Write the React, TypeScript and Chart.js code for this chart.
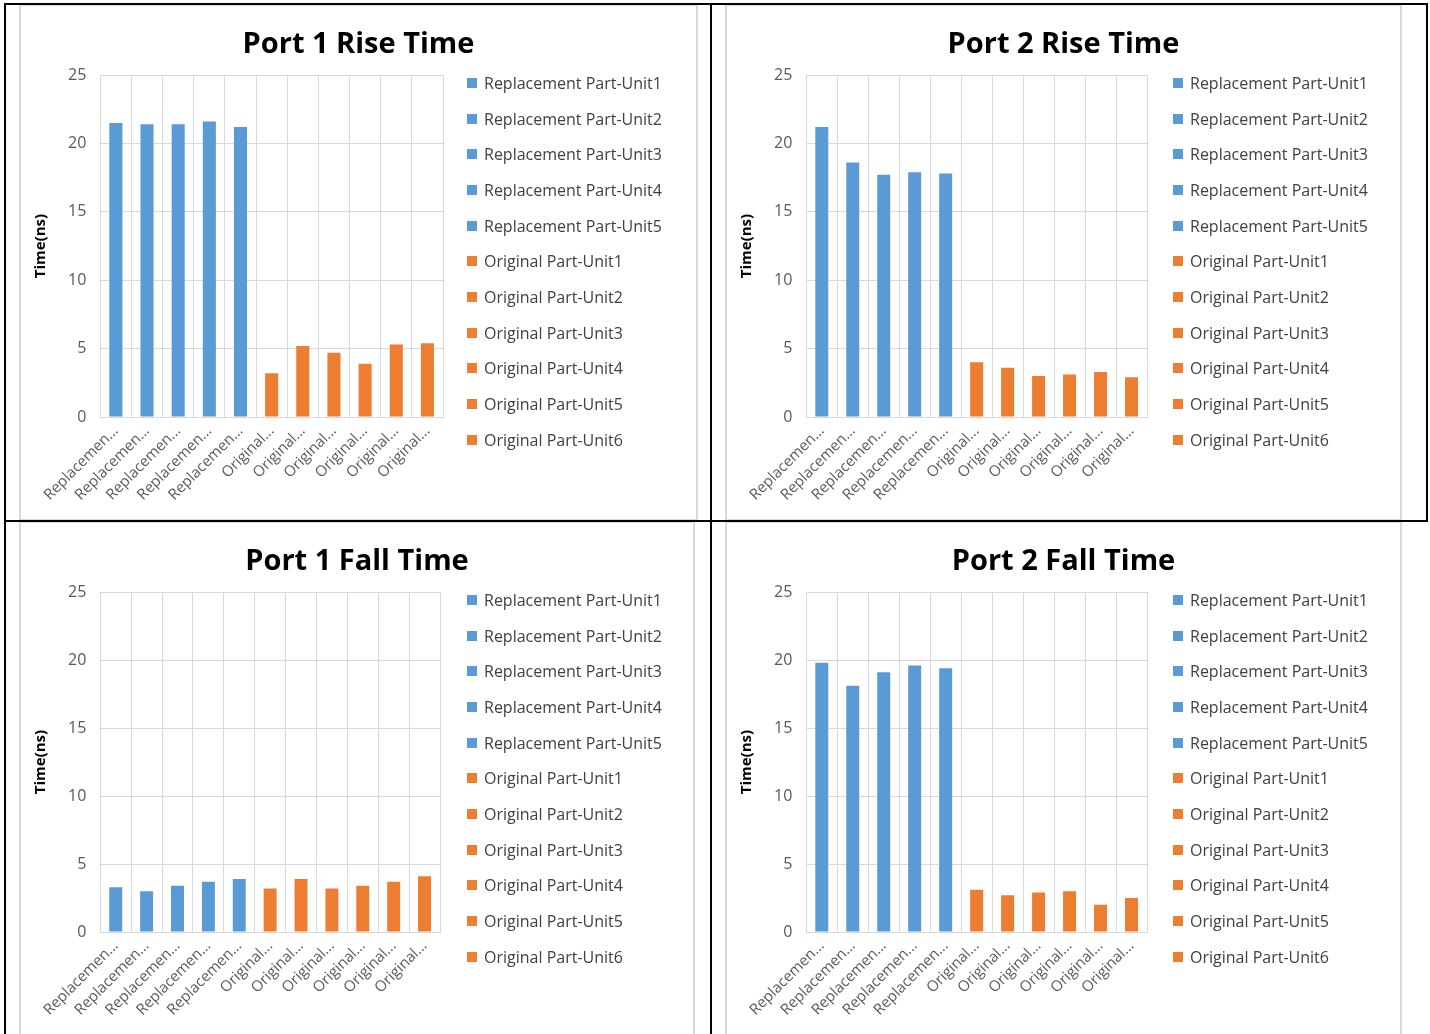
import Chart from 'chart.js/auto';
import { useEffect, useRef } from 'react';

const categories = [
	'Replacement Part-Unit1',
	'Replacement Part-Unit2',
	'Replacement Part-Unit3',
	'Replacement Part-Unit4',
	'Replacement Part-Unit5',
	'Original Part-Unit1',
	'Original Part-Unit2',
	'Original Part-Unit3',
	'Original Part-Unit4',
	'Original Part-Unit5',
	'Original Part-Unit6',
];
const shortLabels = [
	'Replacemen...', 'Replacemen...', 'Replacemen...', 'Replacemen...', 'Replacemen...',
	'Original...', 'Original...', 'Original...', 'Original...', 'Original...', 'Original...',
];

const port1Rise = [21.5, 21.4, 21.4, 21.6, 21.2, 3.2, 5.2, 4.7, 3.9, 5.3, 5.4];
const port2Rise = [21.2, 18.6, 17.7, 17.9, 17.8, 4.0, 3.6, 3.0, 3.1, 3.3, 2.9];
const port1Fall = [3.3, 3.0, 3.4, 3.7, 3.9, 3.2, 3.9, 3.2, 3.4, 3.7, 4.1];
const port2Fall = [19.8, 18.1, 19.1, 19.6, 19.4, 3.1, 2.7, 2.9, 3.0, 2.0, 2.5];

const BLUE = '#5B9BD5';
const ORANGE = '#ED7D31';
const colors = categories.map((c) => (c.startsWith('Replacement') ? BLUE : ORANGE));
const FONT = "'Open Sans', 'Noto Sans', sans-serif";

function PortChart({ title, values }: { title: string; values: number[] }) {
	const ref = useRef<HTMLCanvasElement | null>(null);

	useEffect(() => {
		if (!ref.current) return;
		const chart = new Chart(ref.current, {
			type: 'bar',
			data: {
				labels: categories,
				datasets: [{ data: values, backgroundColor: colors, barPercentage: 0.42, categoryPercentage: 1 }],
			},
			options: {
				animation: false,
				responsive: true,
				maintainAspectRatio: false,
				layout: { padding: { left: 7, right: 253, top: 69, bottom: 10 } },
				plugins: {
					legend: { display: false },
					tooltip: { enabled: false },
				},
				scales: {
					x: {
						grid: { color: '#D9D9D9', drawTicks: false, offset: true },
						border: { color: '#D9D9D9' },
						ticks: {
							color: '#595959',
							font: { family: FONT, size: 15 },
							maxRotation: 45,
							minRotation: 45,
							autoSkip: false,
							padding: 5,
							callback: (_v, i) => shortLabels[i],
						},
					},
					y: {
						min: 0,
						max: 25,
						ticks: { stepSize: 5, color: '#595959', font: { family: FONT, size: 16 }, padding: 14 },
						grid: { color: '#D9D9D9', drawTicks: false },
						border: { display: false },
						title: {
							display: true,
							text: 'Time(ns)',
							color: '#000',
							font: { family: FONT, size: 15, weight: 'bold' },
						},
					},
				},
			},
		});
		return () => chart.destroy();
	}, [title, values]);

	return (
		<div style={{ position: 'relative', width: '100%', height: '100%' }}>
			<canvas ref={ref}></canvas>
			<div
				style={{
					position: 'absolute',
					left: 0,
					right: 0,
					top: 16,
					textAlign: 'center',
					fontFamily: FONT,
					fontWeight: 'bold',
					fontSize: 29,
					lineHeight: '40px',
					color: '#000',
				}}
			>
				{title}
			</div>
			<div style={{ position: 'absolute', left: 446, top: 59, fontFamily: FONT, fontSize: 16, color: '#404040' }}>
				{categories.map((c, i) => (
					<div key={c} style={{ height: 35.7, display: 'flex', alignItems: 'center', whiteSpace: 'nowrap' }}>
						<span style={{ width: 10, height: 10, background: colors[i], marginRight: 7, display: 'inline-block' }} />
						{c}
					</div>
				))}
			</div>
		</div>
	);
}

const panel = (left: number, top: number, width: number, height: number): React.CSSProperties => ({
	position: 'absolute',
	left,
	top,
	width,
	height,
	border: '2px solid #D9D9D9',
	boxSizing: 'border-box',
	background: '#fff',
});

const line = (left: number, top: number, width: number, height: number): React.CSSProperties => ({
	position: 'absolute',
	left,
	top,
	width,
	height,
	background: '#000',
});

export default function App() {
	useEffect(() => {
		document.body.style.margin = '0';
	}, []);
	return (
		<div style={{ position: 'relative', width: 1430, height: 1034, background: '#fff', overflow: 'hidden' }}>
			<div style={panel(19, 4, 679, 517)}><PortChart title="Port 1 Rise Time" values={port1Rise} /></div>
			<div style={panel(725, 4, 677, 517)}><PortChart title="Port 2 Rise Time" values={port2Rise} /></div>
			<div style={panel(19, 521, 676, 515)}><PortChart title="Port 1 Fall Time" values={port1Fall} /></div>
			<div style={panel(725, 521, 677, 515)}><PortChart title="Port 2 Fall Time" values={port2Fall} /></div>
			<div style={line(4, 3, 1424, 2)} />
			<div style={line(4, 3, 2, 1031)} />
			<div style={line(710, 3, 2, 1031)} />
			<div style={line(1426, 3, 2, 518)} />
			<div style={line(4, 520, 1424, 2)} />
		</div>
	);
}
